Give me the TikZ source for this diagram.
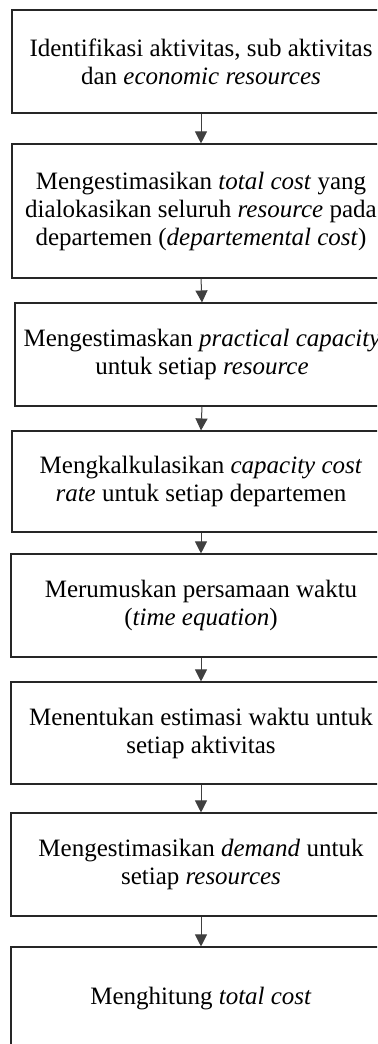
\documentclass[tikz,border=0pt]{standalone}
\usepackage{fontspec}
\setmainfont{Liberation Serif}
\usetikzlibrary{arrows.meta}
\begin{document}
\begin{tikzpicture}[x=1bp,y=-1bp,
  stepbox/.style={draw=black!85, line width=1.1bp, inner sep=0pt,
    minimum width=378bp, align=center,
    font=\fontsize{25bp}{28bp}\selectfont},
  flow/.style={draw=black!75, line width=1bp,
    -{Triangle[width=12bp,length=12bp]}}]
\useasboundingbox (0,0) rectangle (377,1044);
\clip (0,0) rectangle (377,1044);

\node[stepbox, minimum height=103bp] (s1) at (201,61.5)
  {Identifikasi aktivitas, sub aktivitas\\dan \textit{economic resources}};
\node[stepbox, minimum height=134bp] (s2) at (201,211)
  {Mengestimasikan \textit{total cost} yang\\dialokasikan seluruh \textit{resource} pada\\departemen (\textit{departemental cost})};
\node[stepbox, minimum height=103bp, minimum width=374bp] (s3) at (202,354.5)
  {Mengestimaskan \textit{practical capacity}\\untuk setiap \textit{resource}};
\node[stepbox, minimum height=101bp] (s4) at (201,481.5)
  {Mengkalkulasikan \textit{capacity cost}\\\textit{rate} untuk setiap departemen};
\node[stepbox, minimum height=103bp, minimum width=380bp] (s5) at (201,605.5)
  {Merumuskan persamaan waktu\\(\textit{time equation})};
\node[stepbox, minimum height=102bp, minimum width=380bp] (s6) at (201,733)
  {Menentukan estimasi waktu untuk\\setiap aktivitas};
\node[stepbox, minimum height=103bp, minimum width=380bp] (s7) at (201,864.5)
  {Mengestimasikan \textit{demand} untuk\\setiap \textit{resources}};
\node[stepbox, minimum height=103bp, minimum width=380bp] (s8) at (201,998.5)
  {Menghitung \textit{total cost}};

\foreach \a/\b in {s1/s2,s2/s3,s3/s4,s4/s5,s5/s6,s6/s7,s7/s8}
  \draw[flow] (\a.south) -- (\b.north);
\end{tikzpicture}
\end{document}
